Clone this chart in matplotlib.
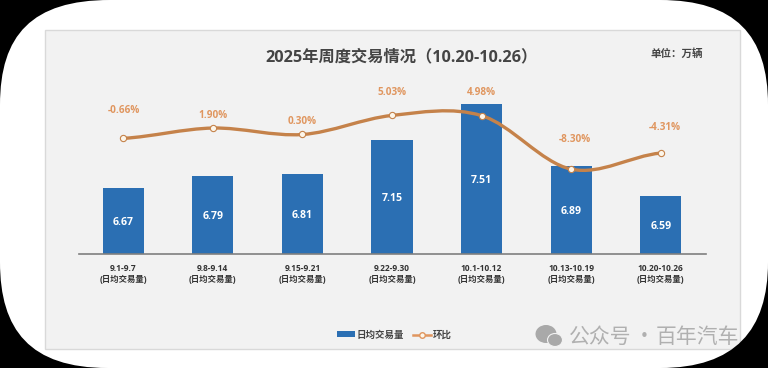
import matplotlib
matplotlib.use("Agg")
import matplotlib.pyplot as plt
from matplotlib.path import Path
from matplotlib.patches import PathPatch, Rectangle, Ellipse, Patch
from matplotlib.lines import Line2D

plt.rcParams['font.family'] = ['Open Sans', 'Noto Sans CJK SC', 'DejaVu Sans']

weeks = ["9.1-9.7", "9.8-9.14", "9.15-9.21", "9.22-9.30", "10.1-10.12", "10.13-10.19", "10.20-10.26"]
volume = [6.67, 6.79, 6.81, 7.15, 7.51, 6.89, 6.59]
change = [-0.66, 1.90, 0.30, 5.03, 4.98, -8.30, -4.31]
change_labels = ["-0.66%", "1.90%", "0.30%", "5.03%", "4.98%", "-8.30%", "-4.31%"]
label_dy = [27.5, 12.5, 13, 22.5, 23, 29.5, 25.5]
label_dx = [1, 0, 0, 0, 0, 4, 4]

W, H = 768, 368
BLUE = "#2b6fb3"
LINE = "#c5824a"
ORANGE = "#e0965f"
GREY = "#444444"

fig = plt.figure(figsize=(W / 100, H / 100), dpi=100, facecolor="white")

# background panel, in pixels
bg = fig.add_axes([0, 0, 1, 1], zorder=0)
bg.set_xlim(0, W)
bg.set_ylim(H, 0)
bg.axis("off")
bg.add_patch(Rectangle((45, 30), 695, 319, facecolor="#f2f2f2", edgecolor="#d9d9d9", linewidth=1))

# bars
ax = fig.add_axes([78.5 / W, (H - 254) / H, 627 / W, 200 / H], zorder=1)
ax.patch.set_alpha(0)
x = list(range(len(weeks)))
ax.bar(x, volume, width=0.46, color=BLUE)
ax.set_xlim(-0.5, 6.5)
ax.set_ylim(6.01, 8.01)
ax.set_yticks([])
for s in ["top", "left", "right"]:
    ax.spines[s].set_visible(False)
ax.spines["bottom"].set_color("#7f7f7f")
ax.spines["bottom"].set_linewidth(1.2)
ax.set_xticks(x)
ax.set_xticklabels([w + "\n(日均交易量)" for w in weeks], fontsize=6, fontweight="bold",
                   color="#333333", linespacing=1.3)
ax.tick_params(axis="x", length=0, pad=7.2)
for i, v in enumerate(volume):
    ax.text(i, (v + 6.01) / 2, "%.2f" % v, ha="center", va="center_baseline", color="white",
            fontsize=7.6, fontweight="bold")

# smoothed line on second axis
ax2 = fig.add_axes(ax.get_position(), zorder=2)
ax2.patch.set_alpha(0)
ax2.axis("off")
ax2.set_xlim(-0.5, 6.5)
ax2.set_ylim(-29.35, 20.27)
n = len(change)
verts = [(x[0], change[0])]
codes = [Path.MOVETO]
for i in range(n - 1):
    prev = change[max(i - 1, 0)]
    nxt = change[min(i + 2, n - 1)]
    verts.append((x[i] + 1 / 3, change[i] + (change[i + 1] - prev) / 6))
    verts.append((x[i + 1] - 1 / 3, change[i + 1] - (nxt - change[i]) / 6))
    verts.append((x[i + 1], change[i + 1]))
    codes += [Path.CURVE4, Path.CURVE4, Path.CURVE4]
ax2.add_patch(PathPatch(Path(verts, codes), facecolor="none", edgecolor=LINE, linewidth=2.4))
ax2.plot(x, change, linestyle="none", marker="o", markersize=4.5, markerfacecolor="#fdf6ea",
         markeredgecolor=LINE, markeredgewidth=0.8)
for i, v in enumerate(change):
    ax2.annotate(change_labels[i], (i, v), xytext=(label_dx[i] * 0.72, label_dy[i] * 0.72),
                 textcoords="offset points", ha="center", va="center", color=ORANGE,
                 fontsize=7.2, fontweight="bold")

# titles
fig.text(401.5 / W, 1 - 57.5 / H, "2025年周度交易情况（10.20-10.26）", ha="center", va="center",
         fontsize=11.7, fontweight="bold", color=GREY)
fig.text(676.5 / W, 1 - 54 / H, "单位：万辆", ha="center", va="center",
         fontsize=7.6, fontweight="bold", color=GREY)

# legend
handles = [Patch(facecolor=BLUE),
           Line2D([], [], color=ORANGE, linewidth=1.8, marker="o", markersize=4,
                  markerfacecolor="#fdf6ea", markeredgecolor=ORANGE)]
fig.legend(handles, ["日均交易量", "环比"], ncol=2, loc="center", bbox_to_anchor=(394.5 / W, 1 - 335 / H),
           frameon=False, handlelength=1.9, handleheight=0.6, handletextpad=0.2, columnspacing=1,
           prop={"size": 6.8, "weight": "bold"}, labelcolor=GREY)

# watermark and black rounded screen corners on top
top = fig.add_axes([0, 0, 1, 1], zorder=5)
top.set_xlim(0, W)
top.set_ylim(H, 0)
top.axis("off")
top.add_patch(Ellipse((546, 334), 21, 18, facecolor="#a9a9a9", edgecolor="none"))
top.add_patch(Ellipse((555, 340), 15, 13, facecolor="#a9a9a9", edgecolor="#f2f2f2", linewidth=0.8))
cjk = ['Noto Sans CJK SC', 'DejaVu Sans']
top.text(569, 337, "公众号", ha="left", va="center", fontsize=15, color="#b0b0b0", family=cjk)
top.text(644, 337, "·", ha="center", va="center", fontsize=15, color="#b0b0b0", family=cjk)
top.text(656, 337, "百年汽车", ha="left", va="center", fontsize=15, color="#b0b0b0", family=cjk)

corners = [
    [(0, 0), (110, 0), (32, 0), (0, 35), (0, 105), (0, 0)],
    [(W, 0), (660, 0), (735, 0), (768, 35), (768, 105), (W, 0)],
    [(0, H), (0, 262), (0, 330), (30, 368), (108, 368), (0, H)],
    [(W, H), (W, 262), (768, 330), (735, 368), (660, 368), (W, H)],
]
for c in corners:
    cc = [Path.MOVETO, Path.LINETO, Path.CURVE4, Path.CURVE4, Path.CURVE4, Path.CLOSEPOLY]
    top.add_patch(PathPatch(Path(c, cc), facecolor="black", edgecolor="none"))

fig.savefig("out.png", dpi=100, facecolor=fig.get_facecolor())
